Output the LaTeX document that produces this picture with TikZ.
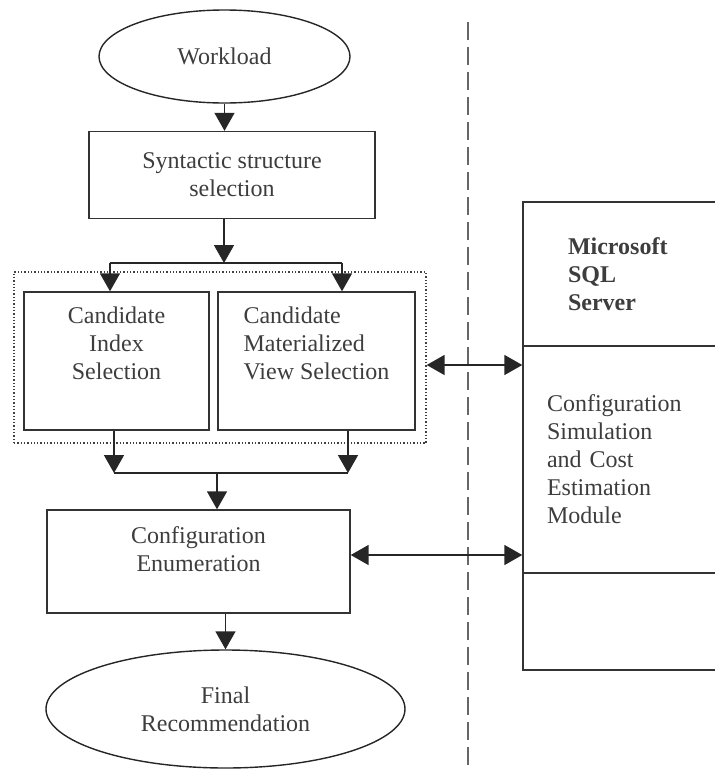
\documentclass[tikz,border=0pt]{standalone}
\usepackage{fontspec}
\setmainfont{Liberation Serif}
\usetikzlibrary{arrows.meta,shapes.geometric}

\begin{document}
\begin{tikzpicture}[
    x=1pt, y=-1pt,
    every node/.style={font=\fontsize{24}{28}\selectfont, text=black!76},
    stage/.style={draw=black!80, line width=1.4pt, rectangle, inner sep=0pt, align=center},
    oval/.style={draw=black!85, line width=1.4pt, ellipse, inner sep=0pt, align=center},
    group/.style={draw=black!75, dotted, line width=1.3pt, rectangle, inner sep=0pt},
    module/.style={draw=black!80, line width=1.4pt, rectangle, align=left, minimum width=202pt},
    link/.style={draw=black!85, line width=1.6pt},
    arrow/.style={link, -{Triangle[width=20pt,length=18pt]}},
    dblarrow/.style={link, {Triangle[width=20pt,length=18pt]}-{Triangle[width=20pt,length=18pt]}}
  ]
    \clip (0,0) rectangle (715,769);

    \node[oval, minimum width=251pt, minimum height=93pt] (workload) at (224.5,56.5) {Workload};
    \node[stage, minimum width=286pt, minimum height=87pt] (syntax) at (232,175) {Syntactic structure\\selection};

    \node[group, minimum width=412pt, minimum height=171pt] (cands) at (220,357.5) {};
    \node[stage, minimum width=185pt, minimum height=138pt] (cidx) at (116.5,361) {Candidate\\Index\\Selection\\ \strut};
    \node[stage, minimum width=197pt, minimum height=138pt, align=left] (cmv) at (316.5,361) {Candidate\\Materialized\\View Selection\\ \strut};

    \node[stage, minimum width=303pt, minimum height=103pt] (enum) at (198.5,561.5) {Configuration\\Enumeration\\[-12pt] \strut};
    \node[oval, minimum width=359pt, minimum height=118pt] (final) at (225.5,709) {Final\\Recommendation};

    % server side
    \node[module, minimum height=144pt, inner xsep=45pt, text width=112pt, font=\fontsize{24}{28}\selectfont\bfseries] (sqlserver) at (624,274) {Microsoft\\SQL\\Server};
    \node[module, minimum height=227pt, inner xsep=24pt, text width=154pt] (simmodule) at (624,459.5) {Configuration\\Simulation\\and Cost\\Estimation\\Module};
    \node[module, minimum height=97pt] (rest) at (624,621.5) {};

    \draw[draw=black!60, line width=1.2pt, dash pattern=on 18pt off 7pt] (468,22) -- (468,769);

    \coordinate (split) at (224,263);
    \coordinate (splitL) at (110,263);
    \coordinate (splitR) at (342,263);
    \coordinate (joinL) at (114,473);
    \coordinate (joinR) at (348,473);
    \coordinate (join) at (217,473);

    \draw[arrow] (workload) -- (syntax.north -| workload);
    \draw[arrow] (syntax.south -| split) -- (split);
    \draw[link] (splitL) -- (splitR);
    \draw[arrow] (splitL) -- (splitL |- cidx.north);
    \draw[arrow] (splitR) -- (splitR |- cmv.north);
    \draw[arrow] (cidx.south -| joinL) -- (joinL);
    \draw[arrow] (cmv.south -| joinR) -- (joinR);
    \draw[link] (joinL) -- (joinR);
    \draw[arrow] (join) -- (join |- enum.north);
    \draw[arrow] (enum.south -| final) -- (final);
    \draw[dblarrow] ([yshift=-7.5pt]cands.east) -- ([yshift=-7.5pt]cands.east -| simmodule.west);
    \draw[dblarrow] ([yshift=6.5pt]enum.east) -- ([yshift=6.5pt]enum.east -| simmodule.west);
\end{tikzpicture}
\end{document}
